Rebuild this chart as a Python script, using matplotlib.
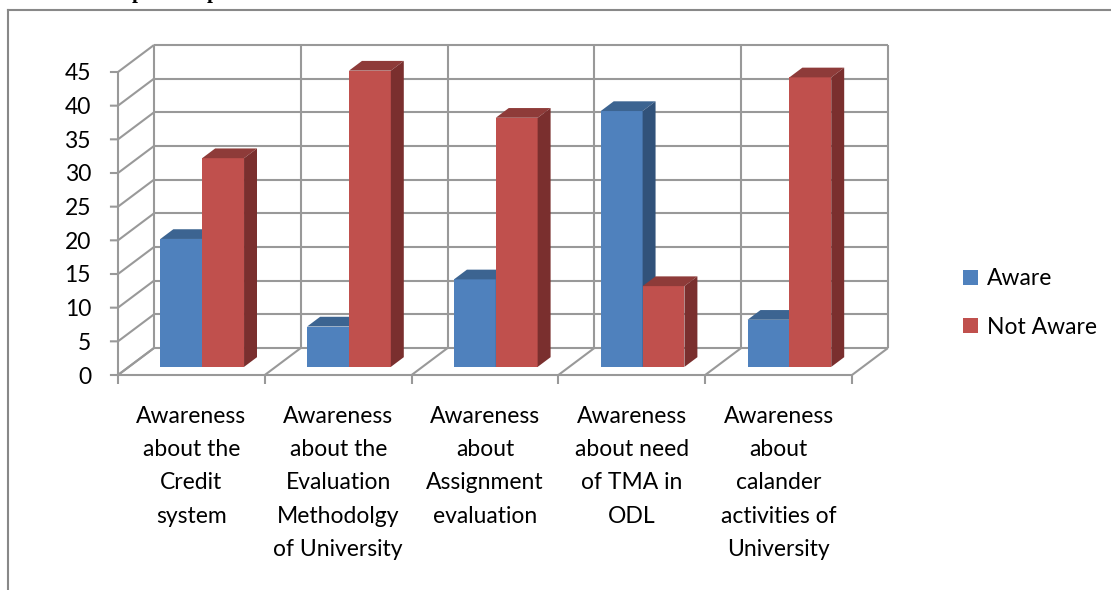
import matplotlib.pyplot as plt
from matplotlib.patches import Polygon, Patch

plt.rcParams['font.family'] = ['Lato', 'DejaVu Sans']

# data
categories = ['Awareness\nabout the\nCredit\nsystem',
              'Awareness\nabout the\nEvaluation\nMethodolgy\nof University',
              'Awareness\nabout\nAssignment\nevaluation',
              'Awareness\nabout need\nof TMA in\nODL',
              'Awareness\nabout\ncalander\nactivities of\nUniversity']
aware = [19, 6, 13, 38, 7]
not_aware = [31, 44, 37, 12, 43]
yticks = [0, 5, 10, 15, 20, 25, 30, 35, 40, 45]

# colours for front / top / side of the fake 3d bars
blue = ['#4F81BD', '#3C6491', '#31527A']
red = ['#C0504D', '#8E3B39', '#7A2F2E']
grid = '#999999'

fig = plt.figure(figsize=(11.11, 5.90), dpi=100)
ax = fig.add_axes([0, 0, 1, 1])
ax.axis('off')

# map: x in category units, y in value units, front plot area at px 118..852 / 375..72
pxc = (852 - 118) / 5.0
pxv = (375 - 72) / 45.0
ax.set_xlim(-118 / pxc, (1111 - 118) / pxc)
ax.set_ylim(-(590 - 375) / pxv, 375 / pxv)

DX = 36 / pxc   # depth offset of the back wall
DY = 27 / pxv
n = len(categories)
ymax = yticks[-1]


def P(x, y, d):
    return (x + d * DX, y + d * DY)


def line(pts, **kw):
    xs, ys = zip(*pts)
    ax.plot(xs, ys, color=grid, lw=1.5, solid_capstyle='butt', zorder=1, **kw)


# back wall
for v in yticks:
    line([P(0, v, 1), P(n, v, 1)])
for i in range(n + 1):
    line([P(i, 0, 1), P(i, ymax, 1)])
# left wall
line([P(0, 0, 0), P(0, ymax, 0)])
for v in yticks:
    line([(-0.055, v), P(0, v, 0), P(0, v, 1)])
# floor
line([P(0, 0, 0), P(n, 0, 0)])
for i in range(n + 1):
    line([P(i, 0, 0), P(i, 0, 1)])
    line([(i, 0), (i, -1.3)])

# bars
w = 0.285
d0, d1 = 0.30, 0.66


def bar3d(x0, x1, v, cols):
    front = [P(x0, 0, d0), P(x1, 0, d0), P(x1, v, d0), P(x0, v, d0)]
    top = [P(x0, v, d0), P(x1, v, d0), P(x1, v, d1), P(x0, v, d1)]
    side = [P(x1, 0, d0), P(x1, 0, d1), P(x1, v, d1), P(x1, v, d0)]
    for pts, c in zip([front, top, side], cols):
        ax.add_patch(Polygon(pts, closed=True, facecolor=c, edgecolor='none', zorder=3))


for i in range(n):
    c = i + 0.5
    bar3d(c - w, c, aware[i], blue)
    bar3d(c, c + w, not_aware[i], red)

# tick labels
for v in yticks:
    ax.text(-27 / pxc, v, str(v), ha='right', va='center_baseline', fontsize=16.5)

for i, lab in enumerate(categories):
    ax.text(i + 0.5, -4.6, lab, ha='center', va='top', fontsize=16.5, linespacing=1.72)

# legend
handles = [Patch(facecolor=blue[0], label='Aware'),
           Patch(facecolor=red[0], label='Not Aware')]
fig.legend(handles=handles, loc='center left', bbox_to_anchor=(942 / 1111, 1 - 303 / 590),
           frameon=False, fontsize=16.5, handlelength=0.65, handleheight=0.65,
           handletextpad=0.4, labelspacing=1.2)

# outer frame of the chart object and the clipped caption above it
fig.add_artist(plt.Line2D([8 / 1111, 1], [1 - 10 / 590, 1 - 10 / 590], color='#888888', lw=1.5))
fig.add_artist(plt.Line2D([8 / 1111, 8 / 1111], [0, 1 - 10 / 590], color='#888888', lw=1.5))
for xp in [138, 213]:
    fig.text(xp / 1111, 1 + 2 / 590, 'p', ha='center', va='baseline', fontsize=15,
             fontweight='bold', family='Liberation Serif')

fig.savefig('out.png', dpi=100)
